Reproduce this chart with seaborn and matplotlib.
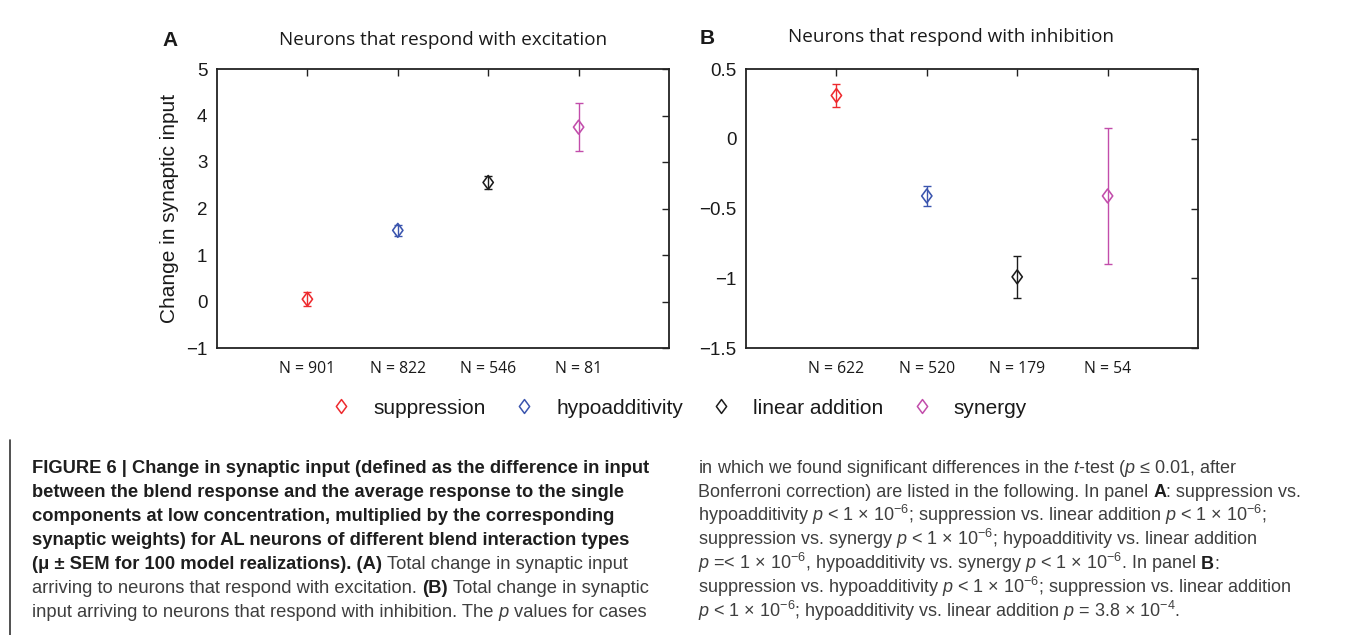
import matplotlib
matplotlib.use("Agg")
import matplotlib.pyplot as plt
import pandas as pd
import seaborn as sns
from matplotlib.path import Path
from matplotlib.lines import Line2D

# ---- data -------------------------------------------------------------
interaction_types = ["suppression", "hypoadditivity", "linear addition", "synergy"]
type_colors = ["#ee2a2e", "#3b55ae", "#1c1c1c", "#c24dab"]
positions = [1, 2, 3, 4]

# panel A: neurons that respond with excitation (mean, SEM, neuron count)
exc_mean = [0.05, 1.53, 2.56, 3.75]
exc_sem = [0.15, 0.12, 0.14, 0.52]
exc_n = [901, 822, 546, 81]

# panel B: neurons that respond with inhibition
inh_mean = [0.31, -0.41, -0.99, -0.41]
inh_sem = [0.08, 0.07, 0.15, 0.49]
inh_n = [622, 520, 179, 54]

exc_yticks = [-1, 0, 1, 2, 3, 4, 5]
inh_yticks = [-1.5, -1, -0.5, 0, 0.5]

# caption text, one list of (text, style) runs per line
caption_left = [
    [("FIGURE 6 | Change in synaptic input (defined as the difference in input", "bold")],
    [("between the blend response and the average response to the single", "bold")],
    [("components at low concentration, multiplied by the corresponding", "bold")],
    [("synaptic weights) for AL neurons of different blend interaction types", "bold")],
    [("(\u03bc \u00b1 SEM for 100 model realizations). (A)", "bold"),
     (" Total change in synaptic input", "normal")],
    [("arriving to neurons that respond with excitation.", "normal"), (" (B)", "bold"),
     (" Total change in synaptic", "normal")],
    [("input arriving to neurons that respond with inhibition. The", "normal"),
     (" p", "italic"), (" values for cases", "normal")],
]
caption_right = [
    [("in which we found significant differences in the $t$-test ($p$ \u2264 0.01, after",
      "normal")],
    [("Bonferroni correction) are listed in the following. In panel", "normal"), (" A", "bold"),
     (": suppression vs.", "normal")],
    [("hypoadditivity $p$ < 1 \u00d7 10$^{-6}$; suppression vs. linear addition "
      "$p$ < 1 \u00d7 10$^{-6}$;", "normal")],
    [("suppression vs. synergy $p$ < 1 \u00d7 10$^{-6}$; hypoadditivity vs. linear addition",
      "normal")],
    [("$p$ =< 1 \u00d7 10$^{-6}$, hypoadditivity vs. synergy $p$ < 1 \u00d7 10$^{-6}$. In panel",
      "normal"), (" B", "bold"), (":", "normal")],
    [("suppression vs. hypoadditivity $p$ < 1 \u00d7 10$^{-6}$; suppression vs. linear addition",
      "normal")],
    [("$p$ < 1 \u00d7 10$^{-6}$; hypoadditivity vs. linear addition $p$ = 3.8 \u00d7 10$^{-4}$.",
      "normal")],
]

# ---- style ------------------------------------------------------------
sns.set_theme(style="white")
plt.rcParams.update({
    "font.family": ["Liberation Sans", "DejaVu Sans"],
    "mathtext.fontset": "custom",
    "mathtext.rm": "Liberation Sans",
    "mathtext.it": "Liberation Sans:italic",
    "mathtext.bf": "Liberation Sans:bold",
    "axes.unicode_minus": True,
})

W, H = 1354, 635
fig = plt.figure(figsize=(W / 100, H / 100), dpi=100)
fig.patch.set_facecolor("white")


def fx(px):
    return px / W


def fy(py):
    return 1 - py / H


diamond = Path([(0, 1), (0.74, 0), (0, -1), (-0.74, 0), (0, 1)],
               [Path.MOVETO, Path.LINETO, Path.LINETO, Path.LINETO, Path.CLOSEPOLY])


def tick_text(v):
    return f"{v:g}".replace("-", "\u2212")


def draw_panel(ax, means, sems, counts, yticks):
    df = pd.DataFrame({"position": positions, "change": means,
                       "sem": sems, "type": interaction_types})
    for pos, m, e, c in zip(df["position"], df["change"], df["sem"], type_colors):
        ax.errorbar(pos, m, yerr=e, fmt="none", ecolor=c, elinewidth=1.0,
                    capsize=2.6, capthick=1.0, zorder=2)
    sns.scatterplot(data=df, x="position", y="change", hue="type",
                    hue_order=interaction_types, palette=type_colors,
                    marker=diamond, s=100, linewidth=1.15, legend=False,
                    ax=ax, zorder=3)
    pts = ax.collections[-1]
    pts.set_edgecolors(type_colors)
    pts.set_facecolors("none")

    ax.set_xlim(0, 5)
    ax.set_ylim(yticks[0], yticks[-1])
    ax.set_xticks(positions)
    ax.set_xticklabels([f"N = {n}" for n in counts], fontfamily="Open Sans",
                       fontsize=11.3, color="#1a1a1a")
    ax.set_yticks(yticks)
    ax.set_yticklabels([tick_text(v) for v in yticks], fontsize=13.5, color="#1a1a1a")
    ax.tick_params(axis="both", direction="in", length=5, width=1.0,
                   top=True, right=True, color="#222222")
    ax.tick_params(axis="y", pad=7)
    ax.tick_params(axis="x", pad=9)
    ax.set_xlabel("")
    ax.set_ylabel("")
    ax.grid(False)
    for sp in ax.spines.values():
        sp.set_visible(True)
        sp.set_linewidth(1.3)
        sp.set_color("#222222")


axA = fig.add_axes([fx(217), fy(348), 452 / W, 279 / H])
axB = fig.add_axes([fx(746), fy(348), 452 / W, 279 / H])
draw_panel(axA, exc_mean, exc_sem, exc_n, exc_yticks)
draw_panel(axB, inh_mean, inh_sem, inh_n, inh_yticks)

axA.set_ylabel("Change in synaptic input", fontsize=15, color="#1a1a1a")
axA.yaxis.set_label_coords(-0.085, 0.5)

# panel titles and letters
fig.text(fx(443), fy(40), "Neurons that respond with excitation", ha="center",
         va="center", fontfamily="Open Sans", fontsize=13.6, color="#1a1a1a")
fig.text(fx(951), fy(37), "Neurons that respond with inhibition", ha="center",
         va="center", fontfamily="Open Sans", fontsize=13.6, color="#1a1a1a")
fig.text(fx(162), fy(40), "A", ha="left", va="center", fontsize=15,
         fontweight="bold", color="#1a1a1a")
fig.text(fx(700), fy(38), "B", ha="left", va="center", fontsize=15,
         fontweight="bold", color="#1a1a1a")

# shared legend
handles = [Line2D([], [], linestyle="none", marker=diamond, markersize=10,
                  markerfacecolor="none", markeredgecolor=c, markeredgewidth=1.1)
           for c in type_colors]
leg = fig.legend(handles, interaction_types, loc="center left",
                 bbox_to_anchor=(fx(331), fy(408)), ncol=4, frameon=False,
                 fontsize=15, handlelength=1.0, handletextpad=1.04,
                 columnspacing=1.33, borderpad=0, borderaxespad=0)
for t in leg.get_texts():
    t.set_color("#1a1a1a")

# caption block
renderer = fig.canvas.get_renderer()
run_styles = {
    "bold": dict(fontweight="bold", fontstyle="normal", color="#1e1e1e"),
    "normal": dict(fontweight="normal", fontstyle="normal", color="#3e3e3e"),
    "italic": dict(fontweight="normal", fontstyle="italic", color="#3e3e3e"),
}


def draw_caption(x0, y0, lines, size, spacing):
    space_px = 0.278 * size * 100 / 72
    for i, runs in enumerate(lines):
        x = x0
        y = y0 + i * spacing
        for text, style in runs:
            if text.startswith(" "):
                x += space_px
                text = text[1:]
            t = fig.text(fx(x), fy(y), text, ha="left", va="baseline",
                         fontsize=size, fontfamily=["Liberation Sans", "DejaVu Sans"],
                         **run_styles[style])
            x += t.get_window_extent(renderer).width


draw_caption(32, 473, caption_left, 13.25, 24)
draw_caption(698, 473, caption_right, 13, 24)

fig.add_artist(Line2D([fx(10), fx(10)], [fy(440), fy(635)], transform=fig.transFigure,
                      color="#333333", lw=1.2))

fig.savefig("out.png", dpi=100, facecolor="white")
